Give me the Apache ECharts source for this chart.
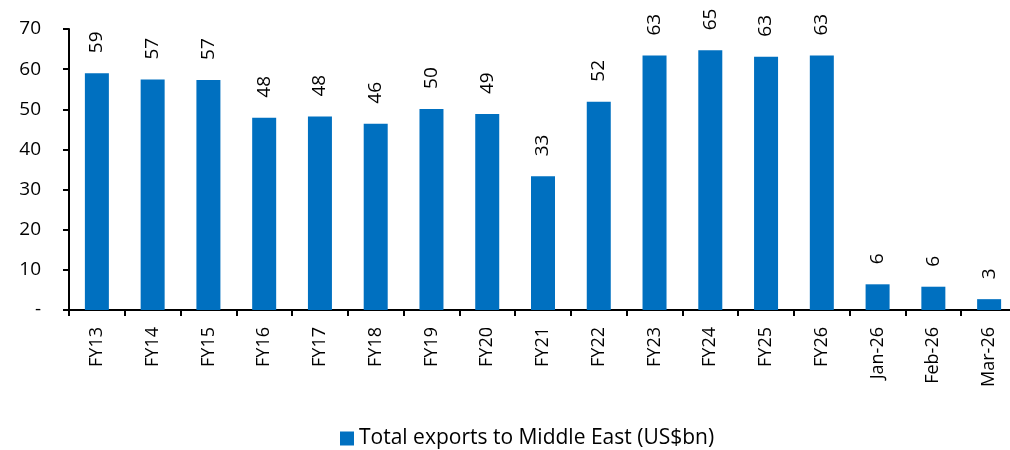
<!DOCTYPE html>
<html>
<head>
<meta charset="utf-8">
<script src="https://cdn.jsdelivr.net/npm/echarts@6/dist/echarts.min.js"></script>
<style>
  html, body { margin: 0; padding: 0; background: #fff; overflow: hidden; }
  #main { width: 1017px; height: 450px; }
</style>
</head>
<body>
<div id="main"></div>
<script>
const categories = ['FY13', 'FY14', 'FY15', 'FY16', 'FY17', 'FY18', 'FY19', 'FY20', 'FY21',
  'FY22', 'FY23', 'FY24', 'FY25', 'FY26', 'Jan-26', 'Feb-26', 'Mar-26'];
const exportsME = [59.0, 57.4, 57.3, 47.9, 48.2, 46.4, 50.1, 48.8, 33.3,
  51.9, 63.4, 64.7, 63.1, 63.4, 6.4, 5.8, 2.7];
const seriesName = 'Total exports to Middle East (US$bn)';

const font = '"Open Sans", "Liberation Sans", sans-serif';
const barColor = '#0070C0';

const chart = echarts.init(document.getElementById('main'));
chart.setOption({
  animation: false,
  textStyle: { fontFamily: font },
  grid: { left: 69, right: 0, top: 29, bottom: 140, containLabel: false },
  legend: {
    top: 423,
    left: 335,
    icon: 'rect',
    itemWidth: 14,
    itemHeight: 14,
    itemGap: 6,
    textStyle: { fontSize: 21, color: '#000', fontFamily: font },
    data: [seriesName]
  },
  xAxis: {
    type: 'category',
    data: categories,
    axisLine: { lineStyle: { color: '#000', width: 2 } },
    axisTick: { show: true, length: 6, lineStyle: { color: '#000', width: 2 } },
    axisLabel: {
      rotate: 90,
      margin: 17,
      interval: 0,
      color: '#000',
      fontSize: 18,
      fontFamily: font
    }
  },
  yAxis: {
    type: 'value',
    min: 0,
    max: 70,
    interval: 10,
    splitLine: { show: false },
    axisLine: { show: true, lineStyle: { color: '#000', width: 2 } },
    axisTick: { show: true, length: 6, lineStyle: { color: '#000', width: 2 } },
    axisLabel: {
      margin: 28,
      color: '#000',
      fontSize: 19,
      fontFamily: font,
      formatter: (v) => v === 0 ? '-' : v
    }
  },
  series: [{
    name: seriesName,
    type: 'bar',
    data: exportsME,
    barWidth: 24,
    itemStyle: { color: barColor },
    label: {
      show: true,
      position: 'top',
      rotate: 90,
      align: 'left',
      verticalAlign: 'middle',
      distance: 20,
      color: '#000',
      fontSize: 19,
      fontFamily: font,
      formatter: (p) => Math.round(p.value)
    }
  }]
});
</script>
</body>
</html>
